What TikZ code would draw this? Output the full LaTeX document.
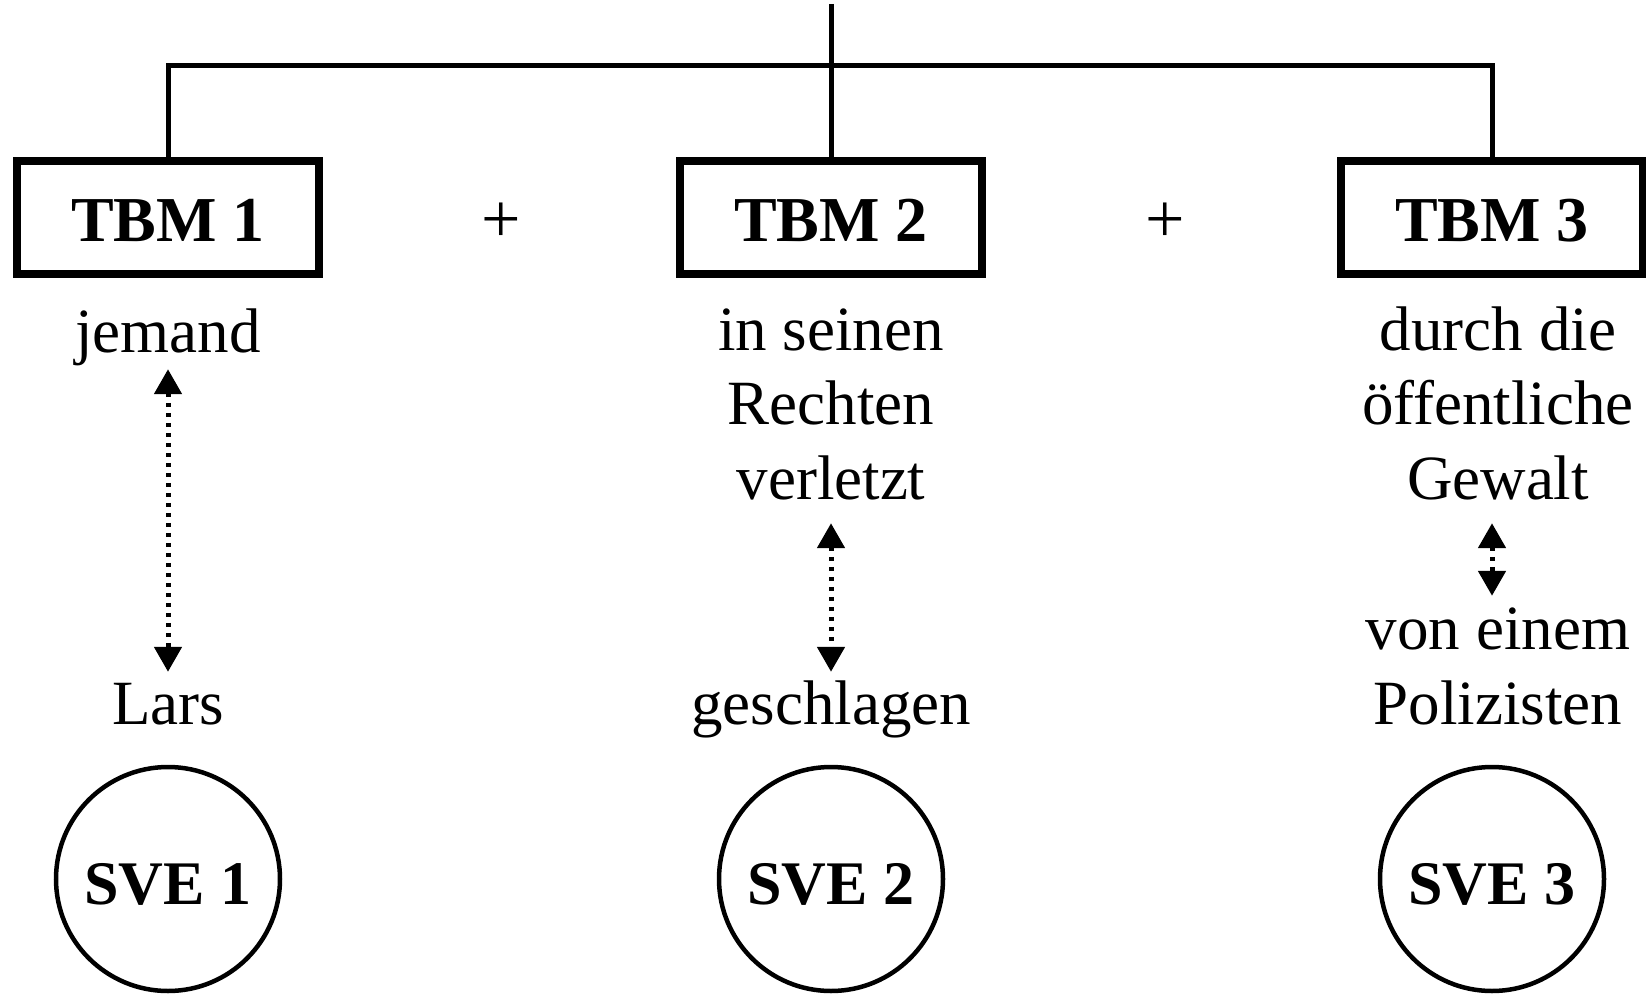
\documentclass[tikz,border=0pt]{standalone}
\usepackage{fontspec}
\setmainfont{Liberation Serif}
\usetikzlibrary{arrows.meta}
\begin{document}
\begin{tikzpicture}[x=1pt,y=-1pt,
  conn/.style={line width=5pt},
  tbm/.style={draw,line width=8pt,minimum width=302pt,minimum height=113pt,inner sep=0pt,
    text height=48pt,text depth=0pt,
    font=\fontsize{64}{70}\selectfont\bfseries},
  sve/.style={draw,circle,line width=4.5pt,minimum size=224pt,inner sep=0pt,
    text height=51pt,text depth=0pt,
    font=\fontsize{62}{70}\selectfont\bfseries},
  txt/.style={inner sep=0pt,anchor=base,text height=45pt,text depth=15pt,
    font=\fontsize{63}{75}\selectfont},
  plus/.style={inner sep=0pt,font=\fontsize{70}{75}\selectfont},
  dotarrow/.style={line width=5pt,dash pattern=on 4.5pt off 5.5pt,
    {Triangle[width=27pt,length=25pt]}-{Triangle[width=27pt,length=25pt]}}
]
\useasboundingbox (0,0) rectangle (1646,995);
% boxes
\node[tbm] (b1) at (168,217.5) {TBM 1};
\node[tbm] (b2) at (831,217.5) {TBM 2};
\node[tbm] (b3) at (1492,217.5) {TBM 3};
\node[plus] (p1) at (501,223) {+};
\node[plus] (p2) at (1165,223) {+};
% tree lines
\coordinate (topend) at (831,4);
\coordinate (hbar) at (831,66);
\draw[conn] (topend) -- (b2.north);
\draw[conn] (b1.north) -- (b1.north |- hbar) -- (b3.north |- hbar) -- (b3.north);
% column 1
\node[txt] (t1a) at (168,352) {jemand};
\node[txt] (t1b) at (168,724) {Lars};
% column 2
\node[txt] (t2a) at (831,350) {in seinen};
\node[txt] (t2b) at (831,424.5) {Rechten};
\node[txt] (t2c) at (831,499) {verletzt};
\node[txt] (t2d) at (831,724) {geschlagen};
% column 3
\node[txt] (t3a) at (1498,350) {durch die};
\node[txt] (t3b) at (1498,424.5) {öffentliche};
\node[txt] (t3c) at (1498,499) {Gewalt};
\node[txt] (t3d) at (1498,649) {von einem};
\node[txt] (t3e) at (1498,724) {Polizisten};
% circles
\node[sve] (s1) at (168,879) {SVE 1};
\node[sve] (s2) at (831,879) {SVE 2};
\node[sve] (s3) at (1492,879) {SVE 3};
% arrows
\draw[dotarrow,shorten <=2pt,shorten >=7pt] (t1a.south) -- (t1b.north);
\draw[dotarrow,shorten <=9pt,shorten >=7pt] (t2c.south) -- (t2d.north);
\draw[dotarrow,shorten <=9pt,shorten >=8pt] (t3c.south -| s3) -- (t3d.north -| s3);
\end{tikzpicture}
\end{document}
